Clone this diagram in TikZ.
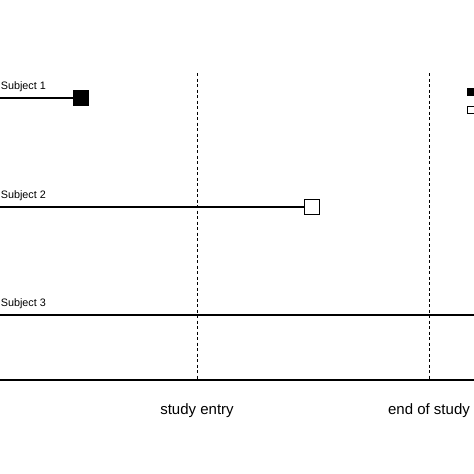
\documentclass[tikz,border=0pt]{standalone}
\usepackage{fontspec}
\setmainfont{Liberation Sans}

\begin{document}
\begin{tikzpicture}[x=1pt, y=-1pt, line width=1.6pt,
    event/.style={draw, fill=black, line width=0.8pt, minimum size=15pt, inner sep=0pt},
    censor/.style={draw, fill=white, line width=0.8pt, minimum size=15pt, inner sep=0pt},
    keybox/.style={draw, line width=0.8pt, minimum size=6.5pt, inner sep=0pt},
    subj/.style={anchor=base west, inner sep=0pt, font=\fontsize{10.8pt}{10.8pt}\selectfont},
    timelabel/.style={anchor=base, inner sep=0pt, font=\fontsize{15pt}{15pt}\selectfont},
    marker/.style={dashed, line width=0.8pt, dash pattern=on 3pt off 2.5pt}]
  \useasboundingbox (0,0) rectangle (474,474);
  \clip (0,0) rectangle (474,474);
  % study entry and end of study
  \coordinate (entrytop) at (197,73);
  \coordinate (entrybot) at (197,380);
  \coordinate (endtop) at (429,73);
  \coordinate (endbot) at (429,380);
  \draw[marker] (entrytop) -- (entrybot);
  \draw[marker] (endtop) -- (endbot);
  % time axis
  \coordinate (axisL) at (0,380);
  \coordinate (axisR) at (474,380);
  \draw (axisL) -- (axisR);
  \node[timelabel] (entry) at (197,414) {study entry};
  \node[timelabel] (end) at (429,414) {end of study};
  % subjects
  \node[subj] (lab1) at (0,89) {Subject 1};
  \coordinate (s1) at (0,98);
  \node[event] (e1) at (81,98) {};
  \draw (s1) -- (e1.west);
  \node[subj] (lab2) at (0,198) {Subject 2};
  \coordinate (s2) at (0,207);
  \node[censor] (e2) at (312,207) {};
  \draw (s2) -- (e2.west);
  \node[subj] (lab3) at (0,306) {Subject 3};
  \coordinate (s3) at (0,315);
  \coordinate (e3) at (474,315);
  \draw (s3) -- (e3);
  % legend (cut at the right edge)
  \node[keybox, fill=black] (key1) at (471,92) {};
  \node[keybox, fill=white] (key2) at (471,110) {};
\end{tikzpicture}
\end{document}
